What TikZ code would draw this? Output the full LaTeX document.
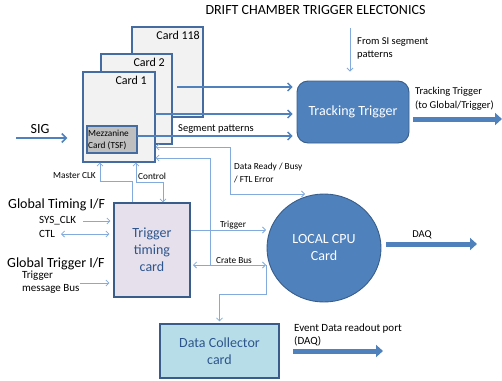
\documentclass[tikz,border=0pt]{standalone}
\usepackage{fontspec}
\setmainfont{Carlito}
\usetikzlibrary{arrows.meta,shapes.geometric}

\definecolor{cardfill}{RGB}{242,242,242}
\definecolor{cardedge}{RGB}{68,108,160}
\definecolor{mezzfill}{RGB}{191,191,191}
\definecolor{accent}{RGB}{79,129,189}
\definecolor{accentedge}{RGB}{56,93,138}
\definecolor{wirecol}{RGB}{130,170,220}
\definecolor{timingfill}{RGB}{230,224,236}
\definecolor{collfill}{RGB}{183,222,232}
\definecolor{boxtext}{RGB}{45,85,140}

\tikzset{
  opentip/.tip={Straight Barb[length=3pt,width=6pt]},
  cardbox/.style={draw=cardedge, line width=1.2pt, fill=cardfill, inner sep=0pt},
  mezzbox/.style={draw=cardedge, line width=1.1pt, fill=mezzfill, inner sep=0pt},
  ttbox/.style={draw=accentedge, line width=0.9pt, fill=accent, rounded corners=11pt,
    text=white, font=\fontsize{14}{17}\selectfont},
  cpubox/.style={ellipse, draw=accentedge, line width=0.9pt, fill=accent,
    text=white, align=center, font=\fontsize{14}{17}\selectfont},
  timingbox/.style={draw=accentedge, line width=1.1pt, fill=timingfill, align=center,
    text=boxtext, font=\fontsize{14}{17}\selectfont},
  collbox/.style={draw=accentedge, line width=1.1pt, fill=collfill, align=center,
    text=boxtext, font=\fontsize{14}{17}\selectfont},
  wire/.style={draw=wirecol, line width=0.8pt},
  busline/.style={draw=accent, line width=1.3pt, -{Straight Barb[length=4pt,width=8pt]}},
  sigline/.style={draw=accent, line width=1.6pt, -{Straight Barb[length=4.5pt,width=9pt]}},
  blockarrow/.style={draw=accent, line width=5pt, -{Triangle[length=7pt,width=12pt]}},
  small/.style={inner sep=0pt, font=\fontsize{9.3}{13}\selectfont, align=left},
  mid/.style={inner sep=0pt, font=\fontsize{10.5}{13.5}\selectfont, align=left},
  midl/.style={inner sep=0pt, font=\fontsize{11}{13}\selectfont, align=left},
  big/.style={inner sep=0pt, font=\fontsize{14}{17}\selectfont},
  cardlbl/.style={inner sep=0pt, font=\fontsize{12}{14}\selectfont, anchor=east},
}

\begin{document}
\begin{tikzpicture}[x=1pt,y=-1pt]
\useasboundingbox (0,0) rectangle (502,380);

% title
\node[big] (title) at (315.5,10) {DRIFT CHAMBER TRIGGER ELECTONICS};

% stack of trigger cards
\node[cardbox, minimum width=71pt, minimum height=90pt] (c118) at (167.5,72) {};
\node[cardlbl] (l118) at (200,35) {Card 118};
\node[cardbox, minimum width=71pt, minimum height=90pt] (c2) at (136.5,99) {};
\node[cardlbl] (l2) at (165,62) {Card 2};
\node[cardbox, minimum width=72pt, minimum height=90pt] (c1) at (119,117) {};
\node[cardlbl] (l1) at (147,80) {Card 1};
\node[mezzbox, minimum width=50pt, minimum height=27pt] (mz) at (112,139.5) {};
\node[small, anchor=west, font=\fontsize{9.3}{12}\selectfont] (mzt) at (88,139.5) {Mezzanine\\Card (TSF)};

% main processing blocks
\node[ttbox, minimum width=112pt, minimum height=62pt] (tt) at (353,112) {Tracking Trigger};
\node[timingbox, minimum width=76pt, minimum height=94pt] (tc) at (152,250) {Trigger\\timing\\card};
\node[cpubox, minimum width=114pt, minimum height=108pt] (cpu) at (324,248) {LOCAL CPU\\Card};
\node[collbox, minimum width=119pt, minimum height=54pt] (dc) at (219.5,351) {Data Collector\\card};

% input signal
\node[big] (sig) at (40,129) {SIG};
\coordinate (sigA) at (16,138);
\draw[sigline, shorten >=15pt] (sigA) -- (sigA -| c1.west);

% card outputs to the tracking trigger
\coordinate (o118) at (177,87);
\coordinate (o2) at (155,114);
\coordinate (o1) at (137,136);
\draw[busline, shorten >=4pt] (o118) -- (o118 -| tt.west);
\draw[busline, shorten >=4pt] (o2) -- (o2 -| tt.west);
\draw[busline, shorten >=4pt] (o1) -- (o1 -| tt.west);
\node[mid, anchor=west] (segl) at (178,129) {Segment patterns};

% SI input
\coordinate (si) at (350,28);
\draw[wire, -opentip, shorten >=9pt] (si) -- (si |- tt.north);
\node[mid, anchor=west] (sil) at (357,48.5) {From SI segment\\patterns};

% tracking trigger output
\coordinate (ttout) at (502,119);
\draw[blockarrow] ([xshift=4pt]tt.east |- ttout) -- (ttout);
\node[mid, anchor=west] (ttl) at (415,99) {Tracking Trigger\\(to Global/Trigger)};

% clock and control to the cards
\draw[wire, -opentip] ([xshift=-20pt]tc.north) -- ++(0,-21) -| ([xshift=-19pt]c1.south);
\draw[wire, opentip-opentip] ([xshift=17pt]c1.south) -- ++(0,20) -| ([xshift=11pt]tc.north);
\node[small, anchor=center] (mclk) at (74.5,176) {Master CLK};
\node[small, anchor=west] (ctrl) at (138,176) {Control};

% status lines from the local CPU and crate bus
\coordinate (drin) at (305,194);
\draw[wire, opentip-opentip] ([yshift=-30pt]c1.east) -| ([xshift=-75pt]drin) -- (drin);
\node[small, anchor=west] (drl) at (234,172.5) {Data Ready / Busy\\/ FTL Error};

\coordinate (cbl) at (193,265);
\coordinate (cbr) at (266,265);
\draw[wire, opentip-opentip] (cbl) -- (cbr);
\draw[wire, opentip-] ([yshift=-41pt]c1.east) -| ([xshift=17pt]cbl);
\node[small] (cbt) at (234,261) {Crate Bus};

\coordinate (trigin) at (266,230);
\draw[wire, -opentip] ([yshift=20pt]tc.east) -- (trigin);
\node[small] (trl) at (233,225) {Trigger};

\draw[wire, -opentip, shorten >=2pt] (cbr) -- ++(0,29) -| (dc.north);

% global interfaces
\node[big, anchor=west] (gti) at (8,205) {Global Timing I/F};
\node[midl, anchor=west] (sysl) at (39,221) {SYS\_CLK};
\node[midl, anchor=west] (ctll) at (39,234) {CTL};
\coordinate (sysA) at (83,221);
\coordinate (ctlA) at (61,234);
\draw[wire, -opentip, shorten >=3pt] (sysA) -- (sysA -| tc.west);
\draw[wire, opentip-opentip, shorten >=4pt] (ctlA) -- (ctlA -| tc.west);

\node[big, anchor=west] (gtr) at (7,264) {Global Trigger I/F};
\node[midl, anchor=west] (tml) at (22,282.5) {Trigger\\message Bus};
\coordinate (tmA) at (80,283);
\draw[wire, -opentip, shorten >=4pt] (tmA) -- (tmA -| tc.west);

% DAQ outputs
\coordinate (daq) at (477,244);
\draw[blockarrow] ([xshift=5pt]cpu.east |- daq) -- (daq);
\node[mid] (daql) at (422,235) {DAQ};

\coordinate (evA) at (293,351);
\coordinate (evB) at (383,351);
\draw[blockarrow] (evA) -- (evB);
\node[midl, anchor=west] (evl) at (294,334.5) {Event Data readout port\\(DAQ)};
\end{tikzpicture}
\end{document}
